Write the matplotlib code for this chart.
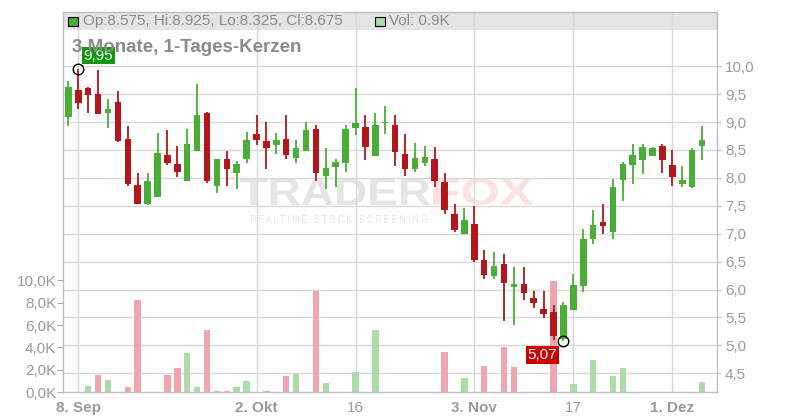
import numpy as np
import pandas as pd
import matplotlib
matplotlib.use("Agg")
import matplotlib.pyplot as plt
from matplotlib.patches import Rectangle, PathPatch
from matplotlib.textpath import TextPath
from matplotlib.font_manager import FontProperties
from matplotlib.transforms import Affine2D, blended_transform_factory
from matplotlib.lines import Line2D

plt.rcParams['font.family'] = ['Liberation Sans', 'DejaVu Sans']

# ---------------- data ----------------
dates = pd.bdate_range("2025-09-05", "2025-12-04")

opens = [9.095, 9.571, 9.607, 9.50, 9.167, 9.357, 8.696, 7.875, 7.536, 7.649,
         8.411, 8.25, 7.952, 8.488, 9.167, 7.863, 8.339, 8.095, 8.345, 8.786,
         8.661, 8.589, 8.696, 8.357, 8.488, 8.875, 8.042, 8.202, 8.274, 8.899,
         8.911, 8.399, 8.98, 8.946, 8.429, 8.167, 8.274, 8.339, 7.929, 7.353,
         6.995, 7.174, 6.529, 6.242, 6.457, 6.051, 6.099, 5.848, 5.651, 5.597,
         5.113, 5.638, 6.069, 6.905, 7.21, 7.036, 7.964, 8.234, 8.323, 8.395,
         8.575, 8.234, 7.892, 7.838, 8.575]
highs = [9.732, 9.95, 9.631, 9.929, 9.411, 9.554, 8.929, 8.089, 8.089, 8.804,
         8.857, 8.571, 8.875, 9.679, 9.185, 8.339, 8.482, 8.304, 8.821, 9.125,
         9.0, 8.804, 9.125, 8.679, 9.0, 8.946, 8.536, 8.339, 8.946, 9.607,
         9.125, 9.161, 9.286, 9.125, 8.786, 8.625, 8.571, 8.554, 8.089, 7.533,
         7.461, 7.497, 6.708, 6.672, 6.637, 6.404, 6.404, 5.974, 5.974, 5.723,
         5.77, 6.278, 7.085, 7.425, 7.533, 7.982, 8.287, 8.611, 8.611, 8.557,
         8.611, 8.503, 8.216, 8.539, 8.925]
lows = [8.935, 9.232, 9.167, 9.14, 8.893, 8.65, 7.857, 7.53, 7.518, 7.649,
        8.238, 8.018, 7.952, 8.488, 7.917, 7.738, 7.863, 7.792, 8.274, 8.589,
        8.161, 8.429, 8.339, 8.268, 8.488, 7.952, 7.792, 7.845, 8.113, 8.774,
        8.327, 8.399, 8.792, 8.22, 8.042, 8.113, 8.22, 7.845, 7.345, 7.031,
        6.995, 6.493, 6.189, 6.189, 5.436, 5.364, 5.812, 5.669, 5.49, 5.09,
        5.07, 5.638, 5.962, 6.816, 6.994, 6.904, 7.587, 7.892, 8.072, 8.395,
        8.09, 7.856, 7.838, 7.82, 8.325]
closes = [9.625, 9.345, 9.488, 9.149, 9.232, 8.661, 7.893, 7.536, 7.946, 8.446,
          8.274, 8.113, 8.607, 9.125, 7.952, 8.339, 8.167, 8.25, 8.679, 8.679,
          8.536, 8.679, 8.411, 8.536, 8.857, 8.095, 8.179, 8.286, 8.875, 8.982,
          8.56, 8.946, 8.99, 8.47, 8.167, 8.357, 8.375, 7.952, 7.417, 7.067,
          7.246, 6.529, 6.26, 6.422, 6.117, 6.099, 5.938, 5.758, 5.561, 5.167,
          5.722, 6.081, 6.905, 7.156, 7.138, 7.838, 8.251, 8.413, 8.557, 8.539,
          8.323, 8.018, 7.964, 8.503, 8.675]
volumes_k = [0, 0, 0.57, 1.55, 1.1, 0, 0.48, 8.24, 0, 0,
             1.55, 2.17, 3.51, 0.48, 5.57, 0.12, 0.12, 0.48, 1.0, 0,
             0.1, 0, 1.46, 1.64, 0, 9.05, 0.83, 0, 0, 1.82,
             0, 5.57, 0, 0, 0, 0, 0, 0, 3.6, 0,
             1.28, 0, 2.35, 0, 4.05, 2.26, 0, 0, 0, 9.94,
             0, 0.74, 0, 2.89, 0, 1.46, 2.17, 0, 0, 0,
             0, 0, 0, 0, 0.92]

price_ticks = [4.5, 5.0, 5.5, 6.0, 6.5, 7.0, 7.5, 8.0, 8.5, 9.0, 9.5, 10.0]
vol_ticks = [0, 2, 4, 6, 8, 10]
date_ticks = ["2025-09-08", "2025-10-02", "2025-10-16", "2025-11-03", "2025-11-17", "2025-12-01"]
date_labels = ["8. Sep", "2. Okt", "16", "3. Nov", "17", "1. Dez"]
date_bold = [True, True, False, True, False, True]
title = "3 Monate, 1-Tages-Kerzen"

# ---------------- style ----------------
UP = "#4aad36"
DOWN = "#b3161b"
VUP = "#acdcaa"
VDOWN = "#f0a6ae"
GRID = "#d9d9d9"
TXT = "#9a9a9a"

W, H = 800, 420
fig = plt.figure(figsize=(W / 100, H / 100), dpi=100)
L, R, T, B = 63.3, 716.7, 11.7, 392.3
ax_vol = fig.add_axes([L / W, 1 - B / H, (R - L) / W, (B - T) / H])
ax_price = ax_vol.twinx()

x = np.arange(len(dates))
o = np.array(opens); h = np.array(highs); lo = np.array(lows); c = np.array(closes)
v = np.array(volumes_k)

# volume bars (coloured by close vs previous close)
prev_c = np.concatenate([[c[0]], c[:-1]])
vcols = [VUP if cc > pc else VDOWN for cc, pc in zip(c, prev_c)]
ax_vol.bar(x, v, width=0.66, color=vcols, zorder=1)

# candles
cols = [UP if cc >= oo else DOWN for oo, cc in zip(o, c)]
ax_price.vlines(x, lo, h, colors=cols, lw=1.3, zorder=3)
body_bottom = np.minimum(o, c)
body_h = np.maximum(np.abs(c - o), 0.025)
ax_price.bar(x, body_h, bottom=body_bottom, width=0.66, color=cols, zorder=4)

# limits
ax_vol.set_xlim(-0.515, 65.48)
ax_price.set_ylim(4.158, 10.978)
ax_vol.set_ylim(0, 33.98)

# grid
ax_vol.set_axisbelow(True)
tick_pos = [dates.get_loc(pd.Timestamp(d)) for d in date_ticks]
ax_vol.set_xticks(tick_pos)
ax_vol.set_xticklabels(date_labels)
for lab, b in zip(ax_vol.get_xticklabels(), date_bold):
    lab.set_fontweight("bold" if b else "normal")
ax_vol.grid(axis="x", color=GRID, lw=1.0)
ax_vol.tick_params(axis="x", length=0, pad=6, labelsize=11, labelcolor=TXT)
btr = blended_transform_factory(ax_vol.transAxes, ax_price.transData)
for p in price_ticks:
    ax_vol.add_line(Line2D([0, 1], [p, p], transform=btr, color=GRID, lw=1.0, zorder=0.5))

# header band
hb = (B - 30) / (B - T)
ax_vol.add_patch(Rectangle((0, hb), 1, 1 - hb, transform=ax_vol.transAxes,
                           facecolor="#e4e4e4", edgecolor="none", zorder=0.2))

# y axes
ax_vol.set_yticks(vol_ticks)
ax_vol.set_yticklabels([f"{t:.1f}K".replace(".", ",") for t in vol_ticks])
ax_vol.tick_params(axis="y", left=True, length=4, pad=1, color="#aaaaaa",
                   labelsize=11, labelcolor=TXT)
ax_price.set_yticks(price_ticks)
ax_price.set_yticklabels([f"{t:.1f}".replace(".", ",") for t in price_ticks])
ax_price.tick_params(axis="y", right=True, length=3, pad=3, color="#bbbbbb",
                     labelsize=11, labelcolor=TXT)
for s in ax_vol.spines.values():
    s.set_color("#bdbdbd"); s.set_linewidth(1.0)
for s in ax_price.spines.values():
    s.set_visible(False)

# watermark
def add_word(text, x0, x1, y_base_img, cap_h, color, weight):
    fp = FontProperties(family="Liberation Sans", weight=weight)
    tp = TextPath((0, 0), text, size=100, prop=fp)
    ext = tp.get_extents()
    sx = (x1 - x0) / ext.width
    sy = cap_h / ext.height
    tr = Affine2D().translate(-ext.x0, -ext.y0).scale(sx, sy).translate(x0, H - y_base_img)
    ax_vol.add_patch(PathPatch(tp, transform=tr, facecolor=color, edgecolor="none", zorder=0.3))

add_word("TRADER", 240, 430, 205, 27, "#e5e5e5", "bold")
add_word("FOX", 433, 533, 205, 27, "#fde0e0", "bold")
add_word("R E A L T I M E   S T O C K   S C R E E N I N G", 251, 427, 223, 8, "#e3e3e3", "normal")

# title
fig.text(72 / W, 1 - 47.5 / H, title, fontsize=13.5, fontweight="bold", color="#8a8a8a",
         ha="left", va="center", zorder=1)

# max / min markers
imax = int(np.argmax(h)); imin = int(np.argmin(lo))
ax_price.plot([x[imax]], [h[imax]], "o", mfc="none", mec="black", ms=7.6, mew=1.0, zorder=7)
ax_price.plot([x[imin]], [lo[imin]], "o", mfc="none", mec="black", ms=7.6, mew=1.0, zorder=7)
ax_price.annotate(f"{h[imax]:.2f}".replace(".", ","), xy=(x[imax], h[imax]), xytext=(20, 13.5),
                  textcoords="offset pixels", ha="center", va="center", color="white", fontsize=11,
                  bbox=dict(boxstyle="square,pad=0.12", fc="#0e9a0e", ec="none"), zorder=8)
ax_price.annotate(f"{lo[imin]:.2f}".replace(".", ","), xy=(x[imin], lo[imin]), xytext=(-21, -13.5),
                  textcoords="offset pixels", ha="center", va="center", color="white", fontsize=11,
                  bbox=dict(boxstyle="square,pad=0.12", fc="#cc0000", ec="none"), zorder=8)

# header legend
fig.patches.append(Rectangle((68 / W, 1 - 26 / H), 10 / W, 9 / H, transform=fig.transFigure,
                             facecolor=UP, edgecolor="black", lw=0.8, zorder=5))
fig.text(83 / W, 1 - 21 / H,
         f"Op:{o[-1]:.3f}, Hi:{h[-1]:.3f}, Lo:{lo[-1]:.3f}, Cl:{c[-1]:.3f}",
         fontsize=11, color="#8a8a8a", ha="left", va="center")
fig.patches.append(Rectangle((375 / W, 1 - 26 / H), 10 / W, 9 / H, transform=fig.transFigure,
                             facecolor=VUP, edgecolor="black", lw=0.8, zorder=5))
fig.text(389 / W, 1 - 21 / H, f"Vol: {v[-1]:.1f}K", fontsize=11, color="#8a8a8a",
         ha="left", va="center")

fig.savefig("out.png", dpi=100)
